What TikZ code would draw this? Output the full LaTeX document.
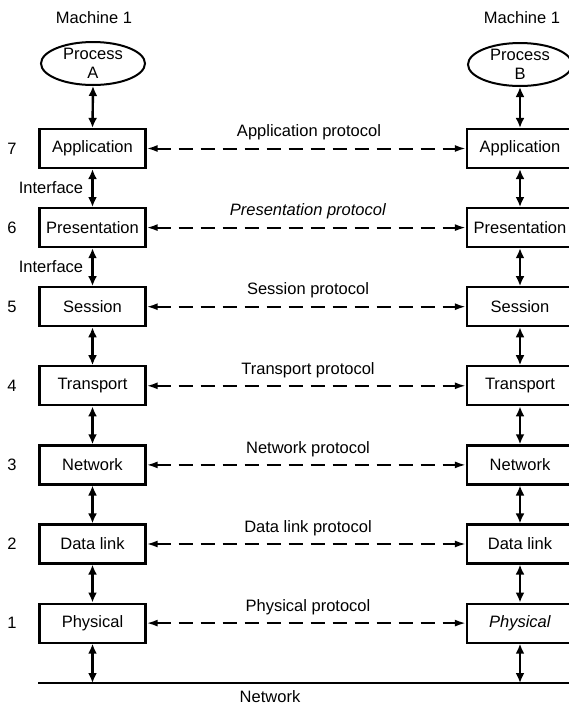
\documentclass[tikz,border=0pt]{standalone}
\usepackage{fontspec}
\setmainfont{Liberation Sans}
\usetikzlibrary{arrows.meta,shapes.geometric}
\tikzset{
  layerbox/.style={draw, line width=2.2pt, rectangle, minimum width=106pt, minimum height=39pt, inner sep=0pt, font=\fontsize{16.5}{19}\selectfont},
  proc/.style={draw, line width=2pt, ellipse, minimum width=104pt, minimum height=43pt, inner sep=0pt, align=center, font=\fontsize{16.5}{19}\selectfont},
  txt/.style={inner sep=0pt, font=\fontsize{16.5}{19}\selectfont},
  vert/.style={line width=2.4pt, {Latex[length=10pt,width=9pt]}-{Latex[length=10pt,width=9pt]}},
  proto/.style={line width=2pt, dash pattern=on 14pt off 8pt, {Latex[length=11pt,width=7pt]}-{Latex[length=11pt,width=7pt]}},
}
\begin{document}
\begin{tikzpicture}[x=1pt,y=-1pt]
\useasboundingbox (0,0) rectangle (569,705);
% titles
\node[txt] (m1) at (94,18) {Machine 1};
\node[txt] (m2) at (522,18) {Machine 1};
\node[proc] (pa) at (93,63.5) {Process\\A};
\node[proc] (pb) at (520,64.5) {Process\\B};
% layers
\foreach \k/\name/\rname [evaluate=\k as \yy using {148.5+79.1*(7-\k)}] in
  {7/Application/Application,6/Presentation/Presentation,5/Session/Session,4/Transport/Transport,3/Network/Network,2/Data link/Data link,1/Physical/\textit{Physical}}{
  \node[layerbox] (L\k) at (92.5,\yy) {\name};
  \node[layerbox] (R\k) at (520,\yy) {\rname};
  \node[txt] (n\k) at (12,\yy) {\k};
}
% protocol labels
\node[txt] (p7) at (309,132.5) {Application protocol};
\node[txt] (p6) at (308,211.6) {\textit{Presentation protocol}};
\node[txt] (p5) at (308,290.7) {Session protocol};
\node[txt] (p4) at (308,369.8) {Transport protocol};
\node[txt] (p3) at (308,448.9) {Network protocol};
\node[txt] (p2) at (308,528) {Data link protocol};
\node[txt] (p1) at (308,607.1) {Physical protocol};
% protocol arrows
\foreach \k in {7,6,5,4,3,2,1}{
  \draw[proto] (L\k.east) -- (R\k.west);
}
% vertical arrows
\draw[vert] (pa.south) -- (L7.north);
\draw[vert] (pb.south) -- (R7.north);
\foreach \a/\b in {7/6,6/5,5/4,4/3,3/2,2/1}{
  \draw[vert] (L\a.south) -- (L\b.north);
  \draw[vert] (R\a.south) -- (R\b.north);
}
% interface labels
\node[txt] (i1) at (51,188) {Interface};
\node[txt] (i2) at (51,267) {Interface};
% network
\coordinate (nl) at (38,683);
\coordinate (nr) at (569,683);
\coordinate (nA) at (92.5,683);
\coordinate (nB) at (520,683);
\draw[line width=2.2pt] (nl) -- (nr);
\draw[vert] (L1.south) -- (nA);
\draw[vert] (R1.south) -- (nB);
\node[txt] (net) at (270,697) {Network};
\end{tikzpicture}
\end{document}
